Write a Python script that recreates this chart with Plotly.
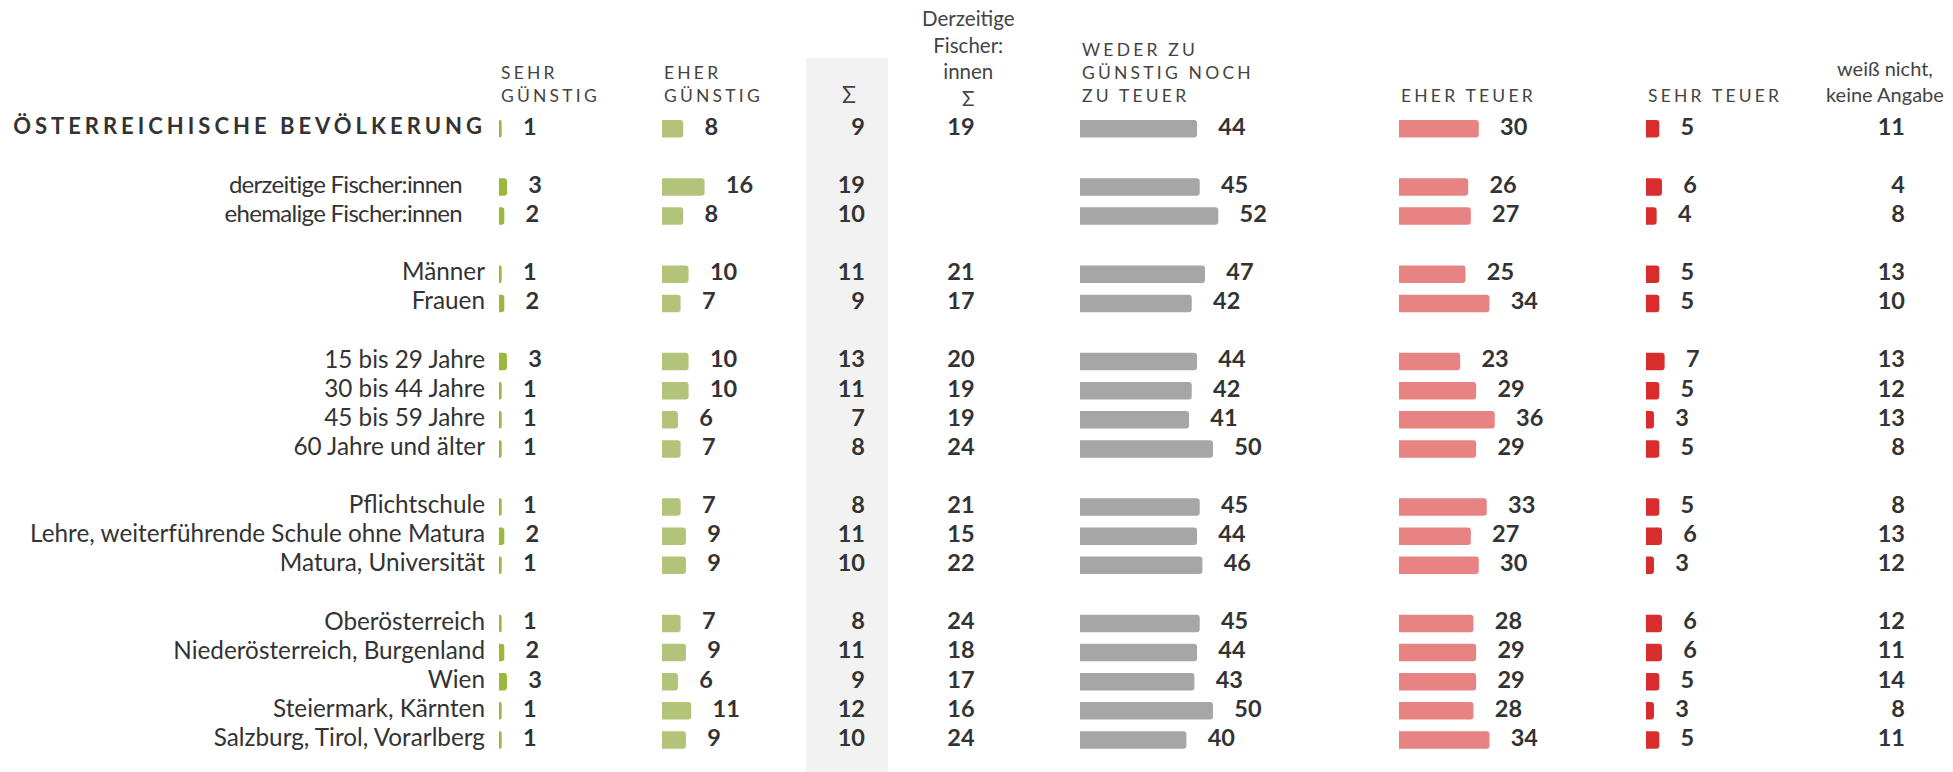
import plotly.graph_objects as go

# ---------------- data ----------------
labels = [
    "ÖSTERREICHISCHE BEVÖLKERUNG",
    "derzeitige Fischer:innen", "ehemalige Fischer:innen",
    "Männer", "Frauen",
    "15 bis 29 Jahre", "30 bis 44 Jahre", "45 bis 59 Jahre", "60 Jahre und älter",
    "Pflichtschule", "Lehre, weiterführende Schule ohne Matura", "Matura, Universität",
    "Oberösterreich", "Niederösterreich, Burgenland", "Wien", "Steiermark, Kärnten",
    "Salzburg, Tirol, Vorarlberg",
]
group = [0, 1, 1, 2, 2, 3, 3, 3, 3, 4, 4, 4, 5, 5, 5, 5, 5]

sehr_guenstig = [1, 3, 2, 1, 2, 3, 1, 1, 1, 1, 2, 1, 1, 2, 3, 1, 1]
eher_guenstig = [8, 16, 8, 10, 7, 10, 10, 6, 7, 7, 9, 9, 7, 9, 6, 11, 9]
summe_guenstig = [9, 19, 10, 11, 9, 13, 11, 7, 8, 8, 11, 10, 8, 11, 9, 12, 10]
fischer_summe = [19, None, None, 21, 17, 20, 19, 19, 24, 21, 15, 22, 24, 18, 17, 16, 24]
weder = [44, 45, 52, 47, 42, 44, 42, 41, 50, 45, 44, 46, 45, 44, 43, 50, 40]
eher_teuer = [30, 26, 27, 25, 34, 23, 29, 36, 29, 33, 27, 30, 28, 29, 29, 28, 34]
sehr_teuer = [5, 6, 4, 5, 5, 7, 5, 3, 5, 5, 6, 3, 6, 6, 5, 3, 5]
weiss_nicht = [11, 4, 8, 13, 10, 13, 12, 13, 8, 8, 13, 12, 12, 11, 14, 8, 11]

headers_bar = ["SEHR<br>GÜNSTIG", "EHER<br>GÜNSTIG", "WEDER ZU<br>GÜNSTIG NOCH<br>ZU TEUER",
               "EHER TEUER", "SEHR TEUER"]
header_sum = "Σ"
header_fischer = "Derzeitige<br>Fischer:<br>innen<br>Σ"
header_weiss = "weiß nicht,<br>keine Angabe"

# ---------------- layout constants ----------------
W, H = 1953, 772
PX_PER_PT = 2.66
ROW0_PX, ROW_PX = 128.8, 29.1
FONT = "Lato"
TXT = "#333333"
HDR = "#444444"
NUM_SIZE = 23.5

ypos = [i + g for i, g in enumerate(group)]
y_top = -ROW0_PX / ROW_PX
y_bot = (H - ROW0_PX) / ROW_PX

bar_series = [sehr_guenstig, eher_guenstig, weder, eher_teuer, sehr_teuer]
bar_colors = ["#9cb73c", "#b3c47a", "#a6a6a6", "#e88383", "#d92d2d"]
bar_starts = [499, 662, 1080, 1399, 1646]
AX_SPAN = 220

fig = go.Figure()
layout_axes = {}

for k, (vals, col, start) in enumerate(zip(bar_series, bar_colors, bar_starts)):
    ax = f"x{k + 2}"
    fig.add_trace(go.Bar(
        x=vals, y=ypos, orientation="h", xaxis=ax, yaxis="y",
        marker=dict(color=col, line=dict(width=0)), width=0.6,
        hoverinfo="skip", showlegend=False,
    ))
    fig.add_trace(go.Scatter(
        x=[v + 8.0 for v in vals], y=ypos, mode="text", xaxis=ax, yaxis="y",
        text=[str(v) for v in vals], textposition="middle right",
        textfont=dict(family=FONT, size=NUM_SIZE, color=TXT, weight="bold"),
        hoverinfo="skip", showlegend=False,
    ))
    layout_axes[f"xaxis{k + 2}"] = dict(
        domain=[start / W, min(1.0, (start + AX_SPAN) / W)],
        range=[0, AX_SPAN / PX_PER_PT], visible=False, fixedrange=True,
        anchor="y",
    )
    fig.add_annotation(
        x=start, xref="x", y=1 - 108 / H, yref="paper",
        xanchor="left", yanchor="bottom", align="left",
        text=f"<span style='letter-spacing:3.2px'>{headers_bar[k]}</span>",
        showarrow=False, font=dict(family=FONT, size=17.5, color=HDR),
    )

# row labels: title row, indented sub-labels (Fischer rows), regular rows
title_idx = [0]
fischer_idx = [i for i, lab in enumerate(labels) if "Fischer" in lab]
regular_idx = [i for i in range(len(labels)) if i not in title_idx + fischer_idx]

fig.add_trace(go.Scatter(
    x=[486], y=[ypos[0]], mode="text", xaxis="x", yaxis="y",
    text=[f"<b><span style='letter-spacing:4px'>{labels[0].upper()}</span></b>"],
    textposition="middle left",
    textfont=dict(family=FONT, size=22, color=TXT),
    hoverinfo="skip", showlegend=False,
))
fig.add_trace(go.Scatter(
    x=[462] * len(fischer_idx), y=[ypos[i] for i in fischer_idx], mode="text",
    xaxis="x", yaxis="y",
    text=[f"<span style='letter-spacing:-0.7px'>{labels[i]}</span>" for i in fischer_idx],
    textposition="middle left",
    textfont=dict(family=FONT, size=24, color=TXT),
    hoverinfo="skip", showlegend=False,
))
fig.add_trace(go.Scatter(
    x=[485] * len(regular_idx), y=[ypos[i] for i in regular_idx], mode="text",
    xaxis="x", yaxis="y",
    text=[labels[i] for i in regular_idx], textposition="middle left",
    textfont=dict(family=FONT, size=24.3, color=TXT),
    hoverinfo="skip", showlegend=False,
))

# Σ column
fig.add_trace(go.Scatter(
    x=[865] * len(summe_guenstig), y=ypos, mode="text", xaxis="x", yaxis="y",
    text=[str(v) for v in summe_guenstig], textposition="middle left",
    textfont=dict(family=FONT, size=NUM_SIZE, color=TXT, weight="bold"),
    hoverinfo="skip", showlegend=False,
))
# Fischer Σ column
fy = [y for y, v in zip(ypos, fischer_summe) if v is not None]
fv = [v for v in fischer_summe if v is not None]
fig.add_trace(go.Scatter(
    x=[961] * len(fv), y=fy, mode="text", xaxis="x", yaxis="y",
    text=[str(v) for v in fv], textposition="middle center",
    textfont=dict(family=FONT, size=NUM_SIZE, color=TXT, weight="bold"),
    hoverinfo="skip", showlegend=False,
))
# weiß nicht column
fig.add_trace(go.Scatter(
    x=[1905] * len(weiss_nicht), y=ypos, mode="text", xaxis="x", yaxis="y",
    text=[str(v) for v in weiss_nicht], textposition="middle left",
    textfont=dict(family=FONT, size=NUM_SIZE, color=TXT, weight="bold"),
    hoverinfo="skip", showlegend=False,
))

# gray band behind Σ column
fig.add_shape(type="rect", xref="x", yref="paper", x0=806, x1=888,
              y0=0, y1=1 - 58 / H, fillcolor="#f2f2f2", line=dict(width=0), layer="below")

# other headers
fig.add_annotation(x=849, xref="x", y=1 - 110 / H, yref="paper", xanchor="center",
                   yanchor="bottom", text=header_sum, showarrow=False,
                   font=dict(family=FONT, size=23, color=HDR))
fig.add_annotation(x=968, xref="x", y=1 - 111.5 / H, yref="paper", xanchor="center",
                   yanchor="bottom", text=header_fischer, showarrow=False, align="center",
                   font=dict(family=FONT, size=20.5, color=HDR))
fig.add_annotation(x=1885, xref="x", y=1 - 108 / H, yref="paper", xanchor="center",
                   yanchor="bottom", text=header_weiss, showarrow=False, align="center",
                   font=dict(family=FONT, size=20, color=HDR))

fig.update_layout(
    width=W, height=H,
    margin=dict(l=0, r=0, t=0, b=0),
    paper_bgcolor="white", plot_bgcolor="rgba(0,0,0,0)",
    barmode="overlay", barcornerradius=3,
    xaxis=dict(domain=[0, 1], range=[0, W], visible=False, fixedrange=True),
    yaxis=dict(range=[y_bot, y_top], visible=False, fixedrange=True),
    **layout_axes,
)

fig.write_html("out.html", config={"displayModeBar": False},
               post_script="document.body.style.margin='0';")
